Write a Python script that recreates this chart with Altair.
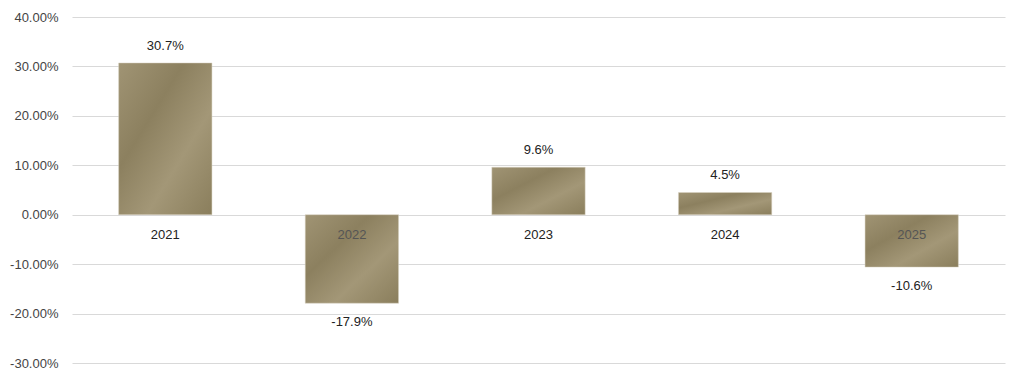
import altair as alt
import pandas as pd

years = ["2021", "2022", "2023", "2024", "2025"]
returns = [0.307, -0.179, 0.096, 0.045, -0.106]
labels = ["30.7%", "-17.9%", "9.6%", "4.5%", "-10.6%"]

df = pd.DataFrame({"year": years, "ret": returns, "label": labels})
df["zero"] = 0.0

FONT = "Liberation Sans"

x = alt.X("year:N", sort=years, axis=None,
          scale=alt.Scale(paddingInner=0.5, paddingOuter=0.25))
yscale = alt.Scale(domain=[-0.3, 0.4], nice=False, zero=False)

grad = alt.Gradient(
    gradient="linear", x1=0, y1=0, x2=1, y2=1,
    stops=[
        alt.GradientStop(offset=0.0, color="#a09474"),
        alt.GradientStop(offset=0.35, color="#8c805f"),
        alt.GradientStop(offset=0.65, color="#a39777"),
        alt.GradientStop(offset=1.0, color="#8a7e5c"),
    ],
)

base = alt.Chart(df)

bars = base.mark_bar(color=grad, stroke="#d8d2c2", strokeWidth=0.5).encode(
    x=x,
    y=alt.Y("ret:Q", scale=yscale,
            axis=alt.Axis(values=[-0.3, -0.2, -0.1, 0, 0.1, 0.2, 0.3, 0.4],
                          labelExpr="replace(format(datum.value, '.2%'), '\u2212', '-')",
                          title=None, domain=False, ticks=False, labelPadding=14,
                          labelFontSize=13, labelColor="#444444", labelFont=FONT,
                          gridColor="#d9d9d9", gridWidth=1)),
    y2=alt.Y2("zero:Q"),
)

pos_labels = base.transform_filter("datum.ret >= 0").mark_text(
    dy=-17, fontSize=13, font=FONT, color="#222222"
).encode(x=x, y=alt.Y("ret:Q", scale=yscale), text="label:N")

neg_labels = base.transform_filter("datum.ret < 0").mark_text(
    dy=19, fontSize=13, font=FONT, color="#222222"
).encode(x=x, y=alt.Y("ret:Q", scale=yscale), text="label:N")

year_labels = base.mark_text(
    dy=20, fontSize=13, font=FONT
).encode(
    x=x, y=alt.Y("zero:Q", scale=yscale), text="year:N",
    color=alt.condition("datum.ret >= 0", alt.value("#222222"), alt.value("#555555")),
)

chart = alt.layer(bars, pos_labels, neg_labels, year_labels).properties(
    width=933, height=346,
    autosize=alt.AutoSizeParams(type="none"),
    padding={"left": 64, "top": 9, "right": 10, "bottom": 10},
    background="white",
).configure_view(strokeWidth=0, stroke="transparent")

chart.save("out.html", embed_options={"renderer": "svg", "actions": False})
